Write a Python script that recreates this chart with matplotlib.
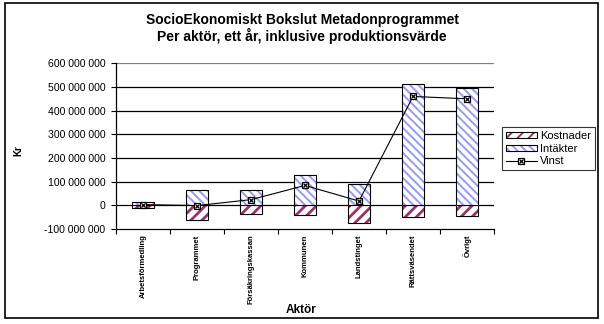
import matplotlib.pyplot as plt
from matplotlib.colors import to_rgba
from matplotlib.patches import Rectangle
from matplotlib.ticker import FixedLocator, FuncFormatter

plt.rcParams["font.family"] = ["Liberation Sans", "DejaVu Sans"]

aktorer = ["Arbetsförmedling", "Programmet", "Försäkringskassan", "Kommunen",
           "Landstinget", "Rättsväsendet", "Övrigt"]
kostnader = [-12e6, -64e6, -38e6, -42e6, -73e6, -51e6, -45e6]
intakter = [16e6, 63e6, 63e6, 127e6, 89e6, 513e6, 496e6]
vinst = [3e6, -1e6, 24e6, 84e6, 18e6, 460e6, 450e6]

KOST_COLOR = "#993366"
INT_COLOR = "#9999ff"


def kr_fmt(v, _pos):
    if v == 0:
        return "0"
    return f"{int(v):,}".replace(",", " ")


fig = plt.figure(figsize=(6.04, 3.24), dpi=100)
fig.patch.set_facecolor("white")
ax = fig.add_axes([116 / 604, 1 - 229 / 324, 378 / 604, 165.7 / 324])

x = list(range(len(aktorer)))

# thick stripes for costs; thin, dense stripes for income
plt.rcParams["hatch.linewidth"] = 2.0
bar_kost = ax.bar(x, kostnader, width=0.41, color="white", edgecolor="black",
                  linewidth=0.8, hatch="///", zorder=3)
plt.rcParams["hatch.linewidth"] = 1.4
bar_int = ax.bar(x, intakter, width=0.41, color="white", edgecolor="black",
                 linewidth=0.8, hatch="\\\\\\\\", zorder=3)
for p in bar_kost:
    p._hatch_color = to_rgba(KOST_COLOR)
for p in bar_int:
    p._hatch_color = to_rgba(INT_COLOR)

line, = ax.plot(x, vinst, color="black", linewidth=0.8, marker="s", markersize=5,
                markerfacecolor="white", markeredgecolor="black",
                markeredgewidth=0.9, zorder=4)
xmark, = ax.plot(x, vinst, linestyle="none", marker="x", markersize=3,
                 markeredgecolor="black", markeredgewidth=0.9, zorder=5)

ax.set_xlim(-0.5, len(aktorer) - 0.5)
ax.set_ylim(-100e6, 600e6)
ax.yaxis.set_major_locator(FixedLocator([i * 100e6 for i in range(-1, 7)]))
ax.yaxis.set_major_formatter(FuncFormatter(kr_fmt))
for i in range(0, 7):
    ax.axhline(i * 100e6, color="black" if i < 6 else "#808080",
               linewidth=0.9, zorder=1)

ax.set_xticks(x)
ax.set_xticklabels(aktorer, rotation=90, fontsize=5.5, fontweight="bold",
                   va="top", ha="center")
ax.set_xticks([i - 0.5 for i in range(len(aktorer) + 1)], minor=True)
ax.tick_params(axis="x", which="major", length=0, pad=4)
ax.tick_params(axis="x", which="minor", length=3.5, width=0.8, direction="out")
ax.tick_params(axis="y", length=3.5, width=0.8, direction="out", labelsize=7.6, pad=4)

for side in ("top", "right"):
    ax.spines[side].set_visible(False)
for side in ("left", "bottom"):
    ax.spines[side].set_linewidth(0.9)
    ax.spines[side].set_zorder(6)

ax.set_ylabel("Kr", fontsize=7, fontweight="bold", labelpad=0)
ax.yaxis.set_label_coords(-0.245, 0.47)
ax.set_xlabel("Aktör", fontsize=8.5, fontweight="bold")
ax.xaxis.set_label_coords(0.49, -0.45)

fig.text(0.5, 1 - 20 / 324, "SocioEkonomiskt Bokslut Metadonprogrammet",
         ha="center", va="center", fontsize=10, fontweight="bold")
fig.text(0.5, 1 - 36 / 324, "Per aktör, ett år, inklusive produktionsvärde",
         ha="center", va="center", fontsize=10, fontweight="bold")

leg = fig.legend([bar_kost, bar_int, (line, xmark)], ["Kostnader", "Intäkter", "Vinst"],
                 loc="upper left", bbox_to_anchor=(502 / 604, 1 - 127 / 324),
                 fontsize=8, frameon=True, fancybox=False, edgecolor="black",
                 handlelength=2.8, handleheight=0.5, handletextpad=0.3,
                 labelspacing=0.25, borderpad=0.35, borderaxespad=0)
leg.get_frame().set_linewidth(0.8)

fig.add_artist(Rectangle((5 / 604, 1 - 318 / 324), 593 / 604, 315 / 324,
                         transform=fig.transFigure, fill=False,
                         edgecolor="black", linewidth=1.2))

fig.savefig("out.png", dpi=100)
